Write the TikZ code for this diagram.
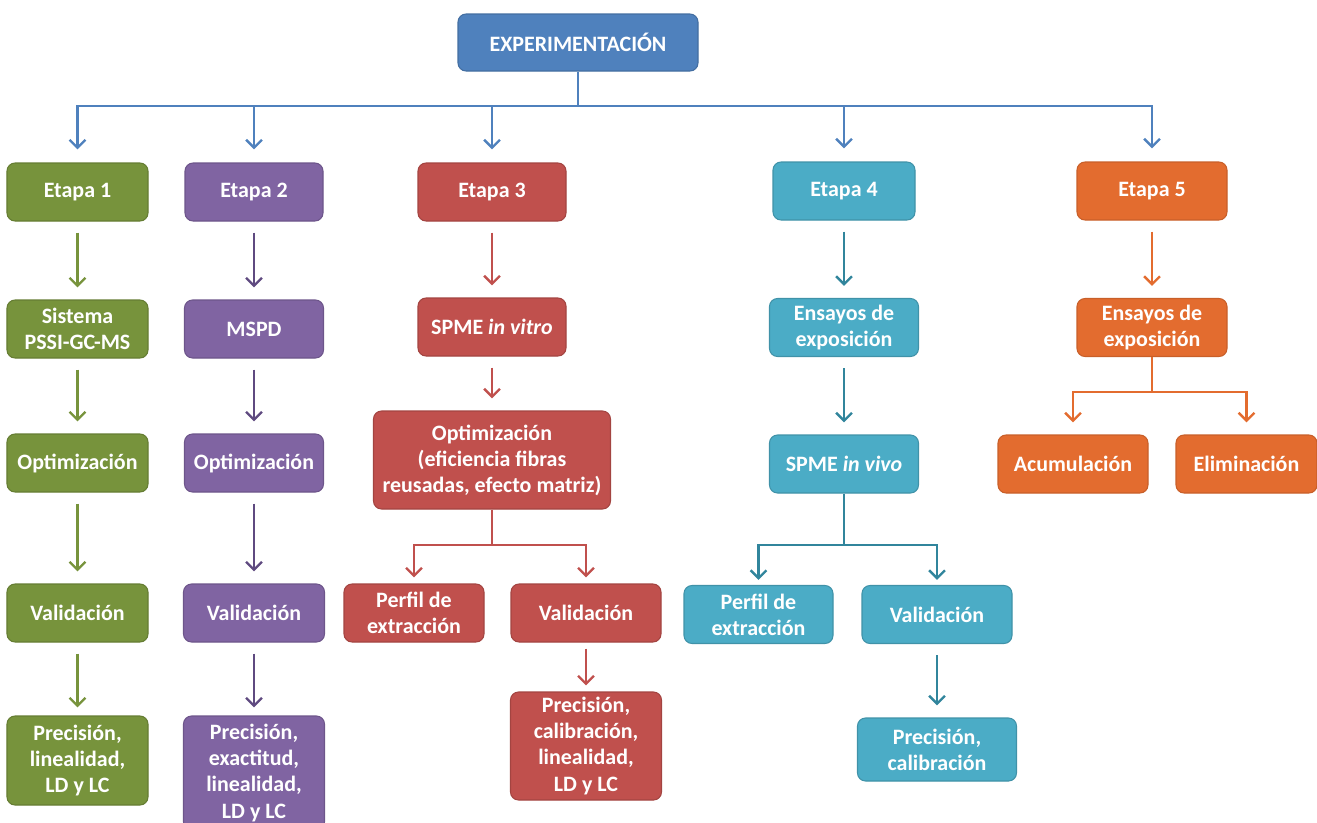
\documentclass[tikz,border=0pt]{standalone}
\usepackage{fontspec}
\setmainfont{Carlito}
\usetikzlibrary{arrows.meta}
\definecolor{azul}{HTML}{4F81BD}
\definecolor{verde}{HTML}{77933C}
\definecolor{morado}{HTML}{8064A2}
\definecolor{moradoA}{HTML}{5F4A80}
\definecolor{rojo}{HTML}{C0504D}
\definecolor{turq}{HTML}{4BACC6}
\definecolor{turqA}{HTML}{31859C}
\definecolor{naranja}{HTML}{E36C2F}
\begin{document}
\begin{tikzpicture}[
  box/.style={rectangle, rounded corners=0.16cm, text=white, inner sep=0pt, align=center, line width=0.6pt,
    font=\fontsize{12.5}{14.8}\selectfont\bfseries, minimum height=1.16cm},
  gbox/.style={box, fill=verde, draw=verde!85!black},
  mbox/.style={box, fill=morado, draw=morado!85!black},
  rbox/.style={box, fill=rojo, draw=rojo!85!black},
  tbox/.style={box, fill=turq, draw=turq!85!black},
  nbox/.style={box, fill=naranja, draw=naranja!88!black},
  line/.style={line width=1.4pt},
  con/.style={line, -{Straight Barb[length=4.5pt,width=9pt]}, shorten <=0.22cm, shorten >=0.24cm},
]
\useasboundingbox (0,0) rectangle (26.34,-16.44);

% raiz
\node[box, fill=azul, draw=azul!85!black, minimum width=4.8cm, minimum height=1.14cm] (exp) at (11.56,-0.85) {EXPERIMENTACIÓN};

% etapas
\node[gbox, minimum width=2.82cm] (e1) at (1.55,-3.84) {Etapa 1};
\node[mbox, minimum width=2.76cm] (e2) at (5.08,-3.84) {Etapa 2};
\node[rbox, minimum width=2.96cm] (e3) at (9.84,-3.84) {Etapa 3};
\node[tbox, minimum width=2.84cm] (e4) at (16.88,-3.82) {Etapa 4};
\node[nbox, minimum width=3.0cm] (e5) at (23.04,-3.82) {Etapa 5};

% etapa 1
\node[gbox, minimum width=2.82cm] (s1) at (1.55,-6.58) {Sistema\\PSSI-GC-MS};
\node[gbox, minimum width=2.82cm] (o1) at (1.55,-9.26) {Optimización};
\node[gbox, minimum width=2.82cm] (v1) at (1.55,-12.26) {Validación};
\node[gbox, minimum width=2.82cm, minimum height=1.78cm] (p1) at (1.55,-15.21) {Precisión,\\linealidad,\\LD y LC};

% etapa 2
\node[mbox, minimum width=2.78cm] (s2) at (5.08,-6.58) {MSPD};
\node[mbox, minimum width=2.78cm] (o2) at (5.08,-9.26) {Optimización};
\node[mbox, minimum width=2.82cm] (v2) at (5.08,-12.26) {Validación};
\node[mbox, minimum width=2.82cm, minimum height=2.28cm] (p2) at (5.08,-15.46) {Precisión,\\exactitud,\\linealidad,\\LD y LC};

% etapa 3
\node[rbox, minimum width=2.96cm] (s3) at (9.84,-6.54) {SPME \textit{in vitro}};
\node[rbox, minimum width=4.74cm, minimum height=1.96cm] (o3) at (9.84,-9.2) {Optimización\\(eficiencia fibras\\reusadas, efecto matriz)};
\node[rbox, minimum width=2.8cm] (per3) at (8.28,-12.26) {Perfil de\\extracción};
\node[rbox, minimum width=3.0cm] (v3) at (11.72,-12.26) {Validación};
\node[rbox, minimum width=3.02cm, minimum height=2.16cm] (p3) at (11.72,-14.92) {Precisión,\\calibración,\\linealidad,\\LD y LC};

% etapa 4
\node[tbox, minimum width=2.98cm] (s4) at (16.88,-6.55) {Ensayos de\\exposición};
\node[tbox, minimum width=2.98cm] (iv4) at (16.88,-9.28) {SPME \textit{in vivo}};
\node[tbox, minimum width=2.98cm] (per4) at (15.17,-12.29) {Perfil de\\extracción};
\node[tbox, minimum width=3.0cm] (v4) at (18.74,-12.29) {Validación};
\node[tbox, minimum width=3.18cm, minimum height=1.26cm] (p4) at (18.74,-14.99) {Precisión,\\calibración};

% etapa 5
\node[nbox, minimum width=3.0cm] (s5) at (23.04,-6.55) {Ensayos de\\exposición};
\node[nbox, minimum width=3.0cm] (acu) at (21.46,-9.28) {Acumulación};
\node[nbox, minimum width=2.82cm] (eli) at (24.93,-9.28) {Eliminación};

% conectores
\coordinate (bar) at (11.56,-2.12);
\draw[line, azul] (exp) -- (bar);
\foreach \n in {e1,e2,e3,e4,e5}
  \draw[con, azul, shorten <=0pt, shorten >=0.26cm] (bar) -| (\n.north);

\draw[con, verde] (e1) -- (s1);
\draw[con, verde] (s1) -- (o1);
\draw[con, verde] (o1) -- (v1);
\draw[con, verde, shorten >=0.16cm] (v1) -- (p1);

\draw[con, moradoA] (e2) -- (s2);
\draw[con, moradoA] (s2) -- (o2);
\draw[con, moradoA] (o2) -- (v2);
\draw[con, moradoA, shorten >=0.16cm] (v2) -- (p2);

\draw[con, rojo] (e3) -- (s3);
\draw[con, rojo] (s3) -- (o3);
\coordinate (rb) at (9.84,-10.9);
\draw[line, rojo] (o3) -- (rb);
\draw[con, rojo, shorten <=0pt, shorten >=0.12cm] (rb) -| (per3.north);
\draw[con, rojo, shorten <=0pt, shorten >=0.12cm] (rb) -| (v3.north);
\draw[con, rojo, shorten <=0.12cm, shorten >=0.12cm] (v3) -- (p3);

\draw[con, turqA] (e4) -- (s4);
\draw[con, turqA] (s4) -- (iv4);
\coordinate (tb) at (16.88,-10.9);
\draw[line, turqA] (iv4) -- (tb);
\draw[con, turqA, shorten <=0pt, shorten >=0.1cm] (tb) -| (per4.north);
\draw[con, turqA, shorten <=0pt, shorten >=0.1cm] (tb) -| (v4.north);
\draw[con, turqA] (v4) -- (p4);

\draw[con, naranja] (e5) -- (s5);
\coordinate (nb) at (23.04,-7.84);
\draw[line, naranja] (s5) -- (nb);
\draw[con, naranja, shorten <=0pt] (nb) -| (acu.north);
\draw[con, naranja, shorten <=0pt] (nb) -| (eli.north);
\end{tikzpicture}
\end{document}
